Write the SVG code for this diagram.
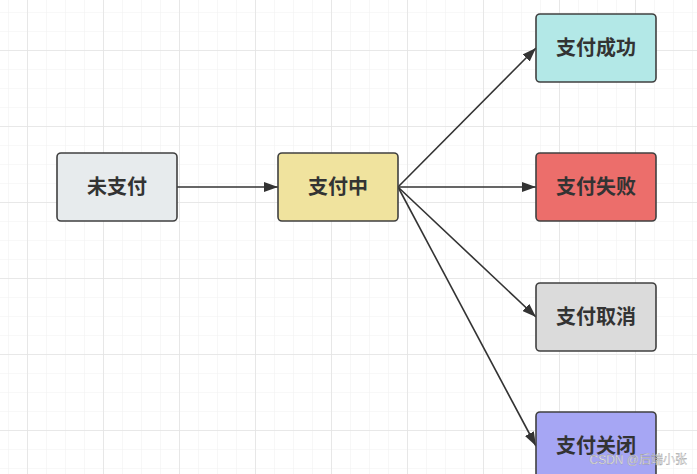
<svg xmlns="http://www.w3.org/2000/svg" width="697" height="474" viewBox="0 0 697 474">
  <defs>
    <pattern id="minor" x="27" y="50" width="19" height="19" patternUnits="userSpaceOnUse">
      <path d="M0 0H19M0 0V19" fill="none" stroke="#f1f1f1" stroke-width="1.2"/>
    </pattern>
    <pattern id="major" x="27" y="50" width="76" height="76" patternUnits="userSpaceOnUse">
      <path d="M0 0H76M0 0V76" fill="none" stroke="#e4e4e4" stroke-width="1.6"/>
    </pattern>
    <marker id="arrow" viewBox="0 0 14 10" refX="14" refY="5" markerWidth="14" markerHeight="10" markerUnits="userSpaceOnUse" orient="auto">
      <path d="M0 0L14 5L0 10Z" fill="#333"/>
    </marker>
    <style>
      .box { stroke: #404040; stroke-width: 1.6; }
      .lbl { font-family: "Noto Sans CJK SC", "Noto Sans", sans-serif; font-size: 20px; font-weight: bold; fill: #333; text-anchor: middle; }
      .edge { stroke: #333; stroke-width: 1.6; fill: none; marker-end: url(#arrow); }
      .wm { font-family: "Liberation Sans", "Noto Sans CJK SC", sans-serif; font-size: 12px; fill: #f4f4f4; stroke: #8a8a8a; stroke-width: 0.3; text-anchor: end; }
    </style>
  </defs>
  <rect width="697" height="474" fill="#ffffff"/>
  <rect width="697" height="474" fill="url(#minor)"/>
  <rect width="697" height="474" fill="url(#major)"/>

  <g id="connectors">
    <line class="edge" x1="177" y1="187" x2="278" y2="187"/>
    <line class="edge" x1="398" y1="187" x2="536" y2="48"/>
    <line class="edge" x1="398" y1="187" x2="536" y2="187"/>
    <line class="edge" x1="398" y1="187" x2="536" y2="317"/>
    <line class="edge" x1="398" y1="187" x2="536" y2="446"/>
  </g>

  <g id="unpaid">
    <rect class="box" x="57" y="153" width="120" height="68" rx="4" fill="#e7ebed"/>
    <text class="lbl" x="117" y="194">未支付</text>
  </g>
  <g id="paying">
    <rect class="box" x="278" y="153" width="120" height="68" rx="4" fill="#f0e39e"/>
    <text class="lbl" x="338" y="194">支付中</text>
  </g>
  <g id="success">
    <rect class="box" x="536" y="14" width="120" height="68" rx="4" fill="#b3e8e7"/>
    <text class="lbl" x="596" y="55">支付成功</text>
  </g>
  <g id="failed">
    <rect class="box" x="536" y="153" width="120" height="68" rx="4" fill="#ec6e6b"/>
    <text class="lbl" x="596" y="194">支付失败</text>
  </g>
  <g id="cancelled">
    <rect class="box" x="536" y="283" width="120" height="68" rx="4" fill="#dbdbdb"/>
    <text class="lbl" x="596" y="324">支付取消</text>
  </g>
  <g id="closed">
    <rect class="box" x="536" y="412" width="120" height="68" rx="4" fill="#a6a6f4"/>
    <text class="lbl" x="596" y="453">支付关闭</text>
  </g>

  <text class="wm" x="687" y="464">CSDN @后端小张</text>
</svg>
